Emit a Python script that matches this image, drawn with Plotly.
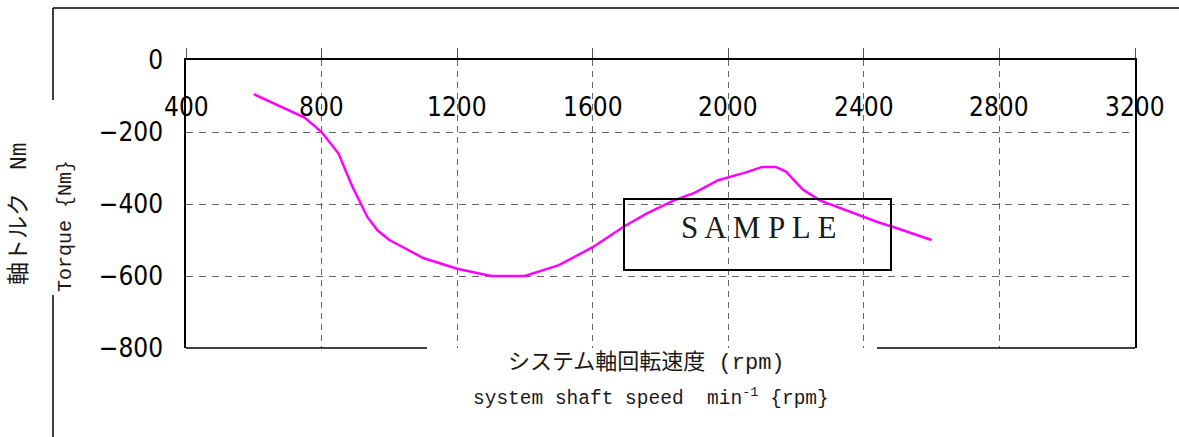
import plotly.graph_objects as go

# ---- data ----
speed_rpm = [600, 750, 800, 850, 890, 935, 965, 1000, 1100, 1200, 1300, 1400,
             1500, 1600, 1690, 1760, 1840, 1900, 1970, 2050, 2100, 2140, 2170,
             2220, 2270, 2320, 2400, 2440, 2500, 2600]
torque_nm = [-95, -160, -200, -260, -350, -436, -473, -500, -550, -580, -600, -600,
             -570, -520, -464, -426, -390, -369, -334, -313, -297, -297, -310,
             -360, -390, -408, -436, -450, -468, -500]
x_ticks = [400, 800, 1200, 1600, 2000, 2400, 2800, 3200]
y_ticks = [0, -200, -400, -600, -800]
y_grid = [-200, -400, -600]
x_title_ja = "システム軸回転速度 (rpm)"
x_title_en = "system shaft speed  min<sup>-1</sup> {rpm}"
y_title_ja = "軸トルク　Nm"
y_title_en = "Torque {Nm}"
watermark = "S A M P L E"

# ---- layout helpers (pixel -> paper) ----
W, H = 1179, 437
L, R, T, B = 186, 44, 60, 89
PW, PH = W - L - R, H - T - B


def px(x):
    return (x - L) / PW


def py(y):
    return (H - B - y) / PH


NUM_FONT = "DejaVu Sans Condensed, Liberation Sans Narrow, Liberation Sans, sans-serif"
TXT_FONT = "Liberation Mono, Noto Sans CJK JP, monospace"
INK = "#1a1a1a"

fig = go.Figure()
fig.add_trace(go.Scatter(x=speed_rpm, y=torque_nm, mode="lines",
                         line=dict(color="#ff00ff", width=2.5),
                         hoverinfo="skip"))

annotations = []
for v in x_ticks:
    annotations.append(dict(x=v, xref="x", y=py(107), yref="paper", text=str(v),
                            showarrow=False, xanchor="center", yanchor="middle",
                            font=dict(family=NUM_FONT, size=26, color="black")))

annotations += [
    dict(x=px(646), y=py(363), xref="paper", yref="paper", text=x_title_ja,
         showarrow=False, xanchor="center", yanchor="middle",
         font=dict(family=TXT_FONT, size=22, color=INK)),
    dict(x=px(651), y=py(397), xref="paper", yref="paper", text=x_title_en,
         showarrow=False, xanchor="center", yanchor="middle",
         font=dict(family=TXT_FONT, size=19.5, color=INK)),
    dict(x=px(19), y=py(214), xref="paper", yref="paper", text=y_title_ja,
         showarrow=False, xanchor="center", yanchor="middle", textangle=-90,
         font=dict(family=TXT_FONT, size=23, color=INK)),
    dict(x=px(65), y=py(226), xref="paper", yref="paper", text=y_title_en,
         showarrow=False, xanchor="center", yanchor="middle", textangle=-90,
         font=dict(family=TXT_FONT, size=20, color=INK)),
    dict(x=px(758), y=py(227), xref="paper", yref="paper", text=watermark,
         showarrow=False, xanchor="center", yanchor="middle",
         font=dict(family="Liberation Serif, DejaVu Serif, serif", size=31, color=INK)),
]

line_k = dict(color="black", width=1.5)
shapes = [
    # outer frame (top and broken left side)
    dict(type="line", xref="paper", yref="paper", x0=px(53), x1=px(1185),
         y0=py(8), y1=py(8), line=line_k),
    dict(type="line", xref="paper", yref="paper", x0=px(53), x1=px(53),
         y0=py(8), y1=py(100), line=line_k),
    dict(type="line", xref="paper", yref="paper", x0=px(53), x1=px(53),
         y0=py(295), y1=py(445), line=line_k),
    # bottom plot edge, broken under the axis title
    dict(type="line", xref="paper", yref="paper", x0=0, x1=px(427),
         y0=0, y1=0, line=line_k),
    dict(type="line", xref="paper", yref="paper", x0=px(877), x1=1,
         y0=0, y1=0, line=line_k),
    # SAMPLE box
    dict(type="rect", xref="paper", yref="paper", x0=px(624), x1=px(891),
         y0=py(270), y1=py(199), line=dict(color="black", width=2),
         fillcolor="rgba(0,0,0,0)", layer="above"),
]

fig.update_layout(
    width=W, height=H,
    margin=dict(l=L, r=R, t=T, b=B, pad=0),
    paper_bgcolor="white", plot_bgcolor="white",
    showlegend=False,
    annotations=annotations,
    shapes=shapes,
    xaxis=dict(range=[400, 3200], side="top", showline=True, linecolor="black",
               linewidth=1.5, mirror=False, ticks="outside", ticklen=10,
               tickcolor="#555", tickwidth=1, tickvals=x_ticks,
               showticklabels=False, showgrid=True, gridcolor="#666",
               gridwidth=1, griddash="6px,5px", zeroline=False, fixedrange=True),
    yaxis=dict(range=[-800, 0], showline=True, linecolor="black", linewidth=1.5,
               mirror=True, ticks="", tickvals=y_ticks,
               ticktext=[str(v).replace("-", "−") for v in y_ticks],
               tickfont=dict(family=NUM_FONT, size=26, color="black"),
               ticklabelstandoff=16, showgrid=False, zeroline=False,
               minor=dict(tickvals=y_grid, showgrid=True, gridcolor="#666",
                          gridwidth=1, griddash="7px,6px", ticks=""),
               fixedrange=True),
)

fig.write_html("out.html", config={"displayModeBar": False},
               post_script="document.body.style.margin='0';document.body.style.overflow='hidden';")
